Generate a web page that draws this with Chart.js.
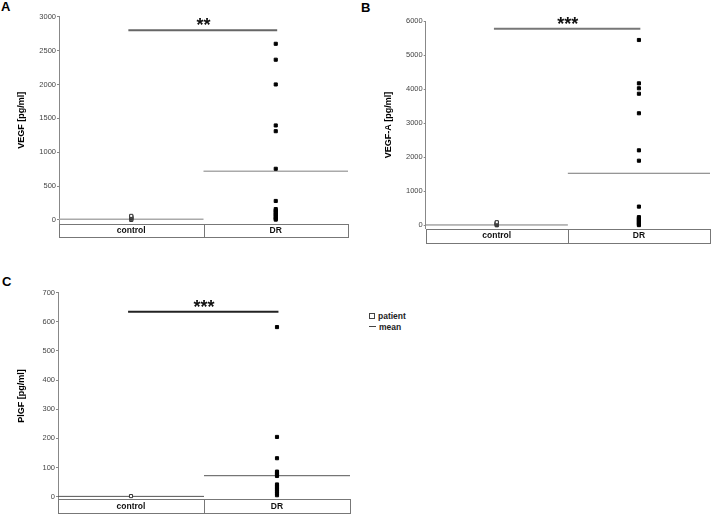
<!DOCTYPE html>
<html>
<head>
<meta charset="utf-8">
<script src="https://cdn.jsdelivr.net/npm/chart.js@4"></script>
<style>
  body { margin: 0; background: #fff; width: 715px; height: 514px; position: relative; overflow: hidden;
         font-family: "Liberation Sans", Arial, sans-serif; }
  canvas { position: absolute; }
  .panel { position: absolute; font-weight: bold; font-size: 13px; line-height: 13px; color: #000; }
  #legend { position: absolute; left: 369px; top: 311px; font-size: 8.5px; font-weight: bold; color: #222; }
  #legend div { height: 11px; line-height: 11px; white-space: nowrap; }
  .sq { display: inline-block; width: 4px; height: 4px; border: 1px solid #444; margin-right: 3px; vertical-align: 0; }
  .ln { display: inline-block; width: 7px; height: 0; border-top: 1px solid #444; margin-right: 3px; vertical-align: 3px; }
</style>
</head>
<body>
<div class="panel" style="left:1px;top:0px">A</div>
<div class="panel" style="left:361px;top:1px">B</div>
<div class="panel" style="left:2px;top:275px">C</div>

<canvas id="chartA" width="360" height="250" style="left:0;top:0"></canvas>
<canvas id="chartB" width="355" height="255" style="left:360px;top:0"></canvas>
<canvas id="chartC" width="360" height="244" style="left:0;top:270px"></canvas>

<div id="legend">
  <div><span class="sq"></span>patient</div>
  <div><span class="ln"></span>mean</div>
</div>

<script>
// categories shared by all three panels
const categories = ['control', 'DR'];

// A - VEGF
const vegfControl = [0, 10, 20, 30, 40, 50, 60];
const vegfDR = [2600, 2365, 2000, 1395, 1310, 755, 280, 160, 140, 120, 100, 80, 60, 40, 20, 5];
const vegfMeans = [10, 720];
const vegfSig = 2800;
const vegfTicks = [0, 500, 1000, 1500, 2000, 2500, 3000];

// B - VEGF-A
const vegfaControl = [0, 15, 30, 45, 60, 75, 90];
const vegfaDR = [5450, 4175, 4030, 3870, 3295, 2205, 1900, 550, 240, 210, 180, 150, 120, 90, 60, 30, 5];
const vegfaMeans = [10, 1530];
const vegfaSig = 5780;
const vegfaTicks = [0, 1000, 2000, 3000, 4000, 5000, 6000];

// C - PlGF
const plgfControl = [2];
const plgfDR = [582, 205, 132, 86, 81, 76, 71, 42, 36, 30, 24, 18, 12, 5];
const plgfMeans = [1, 72];
const plgfSig = 635;
const plgfTicks = [0, 100, 200, 300, 400, 500, 600, 700];

// box under the plot with category names + significance stars
const boxPlugin = {
    id: 'catBox',
    afterDraw(chart, args, opts) {
        const { ctx, chartArea: a, scales: { x, y } } = chart;
        ctx.save();
        ctx.strokeStyle = '#777';
        ctx.lineWidth = 1;
        const top = Math.round(a.bottom) + 0.5;
        const bot = Math.round(x.bottom) - 0.5;
        ctx.strokeRect(Math.round(a.left) + 0.5, top, Math.round(a.right - a.left), bot - top);
        const mid = Math.round(x.getPixelForValue(1)) + 0.5;
        ctx.beginPath();
        ctx.moveTo(mid, top);
        ctx.lineTo(mid, bot);
        ctx.stroke();

        ctx.fillStyle = '#111';
        ctx.font = 'bold 18px "Liberation Sans", Arial, sans-serif';
        ctx.textAlign = 'center';
        ctx.textBaseline = 'alphabetic';
        ctx.fillText(opts.stars, x.getPixelForValue(1), y.getPixelForValue(opts.sig) + 1);
        ctx.restore();
    }
};

function makePanel(id, cfg) {
    const ctx = document.getElementById(id).getContext('2d');
    return new Chart(ctx, {
        type: 'scatter',
        data: {
            datasets: [
                {
                    // DR patients
                    data: cfg.dr.map(v => ({ x: 1.5, y: v })),
                    pointStyle: 'rect',
                    pointRadius: 2.2,
                    backgroundColor: '#000',
                    borderColor: '#000',
                    borderWidth: 1
                },
                {
                    // control patients
                    data: cfg.control.map(v => ({ x: 0.5, y: v })),
                    pointStyle: 'rect',
                    pointRadius: 2.2,
                    backgroundColor: '#fff',
                    borderColor: '#333',
                    borderWidth: 1
                },
                ...cfg.means.map((m, i) => ({
                    type: 'line',
                    data: [{ x: i, y: m }, { x: i + 1, y: m }],
                    borderColor: cfg.meanColor,
                    borderWidth: cfg.meanWidth,
                    pointRadius: 0
                })),
                {
                    type: 'line',
                    data: [{ x: 0.48, y: cfg.sig }, { x: 1.51, y: cfg.sig }],
                    borderColor: cfg.sigColor,
                    borderWidth: 2,
                    pointRadius: 0
                }
            ]
        },
        options: {
            responsive: false,
            animation: false,
            events: [],
            layout: { padding: { top: cfg.padT, right: cfg.padR, bottom: cfg.padB, left: 0 } },
            plugins: {
                legend: { display: false },
                tooltip: { enabled: false },
                catBox: { stars: cfg.stars, sig: cfg.sig }
            },
            scales: {
                x: {
                    type: 'linear',
                    min: 0,
                    max: 2,
                    grid: { display: false, drawTicks: false },
                    border: { display: false },
                    afterBuildTicks: s => { s.ticks = categories.map((c, i) => ({ value: i + 0.5 })); },
                    afterFit: s => { s.height = cfg.xH; },
                    ticks: {
                        callback: (v, i) => categories[i],
                        maxRotation: 0,
                        autoSkip: false,
                        padding: 2,
                        color: '#111',
                        font: { family: '"Liberation Sans", Arial', size: 8.5, weight: 'bold' }
                    }
                },
                y: {
                    min: cfg.yMin,
                    max: cfg.yMax,
                    afterBuildTicks: s => { s.ticks = cfg.ticks.map(v => ({ value: v })); },
                    afterFit: s => { s.width = cfg.axisW; },
                    grid: { drawOnChartArea: false, tickLength: 2, color: '#888' },
                    border: { color: '#888' },
                    ticks: {
                        padding: 1,
                        color: '#444',
                        callback: v => String(v),
                        font: { family: '"Liberation Sans", Arial', size: 7.5 }
                    },
                    title: {
                        display: true,
                        text: cfg.title,
                        color: '#000',
                        padding: { top: cfg.titleX - 5.4, bottom: 0 },
                        font: { family: '"Liberation Sans", Arial', size: 9, weight: 'bold' }
                    }
                }
            }
        },
        plugins: [boxPlugin]
    });
}

makePanel('chartA', {
    control: vegfControl, dr: vegfDR, means: vegfMeans, sig: vegfSig, ticks: vegfTicks,
    stars: '**', title: 'VEGF [pg/ml]', yMin: -60, yMax: 3000,
    axisW: 59, padR: 12, padT: 16.7, padB: 12, xH: 14, titleX: 22,
    meanColor: '#aaa', meanWidth: 1.5, sigColor: '#666'
});

makePanel('chartB', {
    control: vegfaControl, dr: vegfaDR, means: vegfaMeans, sig: vegfaSig, ticks: vegfaTicks,
    stars: '***', title: 'VEGF-A [pg/ml]', yMin: -100, yMax: 6000,
    axisW: 65.7, padR: 0.7, padT: 21.3, padB: 11.3, xH: 15, titleX: 28.5,
    meanColor: '#777', meanWidth: 1, sigColor: '#777'
});

makePanel('chartC', {
    control: plgfControl, dr: plgfDR, means: plgfMeans, sig: plgfSig, ticks: plgfTicks,
    stars: '***', title: 'PlGF [pg/ml]', yMin: -9, yMax: 700,
    axisW: 58, padR: 10, padT: 22.7, padB: 0.2, xH: 14.5, titleX: 21.7,
    meanColor: '#555', meanWidth: 1, sigColor: '#222'
});
</script>
</body>
</html>
